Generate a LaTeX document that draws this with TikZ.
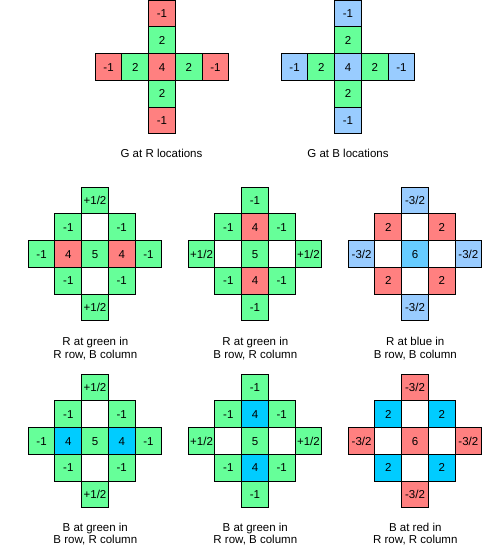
\documentclass[tikz,border=0pt]{standalone}
\usepackage{fontspec}
\setmainfont{Liberation Sans}
\definecolor{cR}{HTML}{FF8080}
\definecolor{cG}{HTML}{66FF99}
\definecolor{cB}{HTML}{99CCFF}
\definecolor{cBc}{HTML}{66CCFF}
\definecolor{cBd}{HTML}{00CCFF}
\tikzset{
  cell/.style={draw=black, line width=1pt, minimum size=26.7pt, inner sep=0pt,
    text height=8.2pt, text depth=0pt, font=\fontsize{11.5}{12.3}\selectfont},
  lab/.style={align=center, inner sep=0pt, anchor=base, font=\fontsize{11.5}{12.3}\selectfont},
}
\newcommand\gc[5]{\node[cell,fill=#4] (#1) at ({(#3-2)*26.7},{(#2-2)*26.7}) {#5};}
\begin{document}
\begin{tikzpicture}[x=1pt,y=-1pt]
\useasboundingbox (0,0) rectangle (491,555);
% G at R locations
\begin{scope}[shift={(162,67)}]
\gc{a02}{0}{2}{cR}{-1}
\gc{a12}{1}{2}{cG}{2}
\gc{a20}{2}{0}{cR}{-1}
\gc{a21}{2}{1}{cG}{2}
\gc{a22}{2}{2}{cR}{4}
\gc{a23}{2}{3}{cG}{2}
\gc{a24}{2}{4}{cR}{-1}
\gc{a32}{3}{2}{cG}{2}
\gc{a42}{4}{2}{cR}{-1}
\end{scope}
\node[lab] (la) at (161.5,157.3) {G at R locations};
% G at B locations
\begin{scope}[shift={(348,67)}]
\gc{b02}{0}{2}{cB}{-1}
\gc{b12}{1}{2}{cG}{2}
\gc{b20}{2}{0}{cB}{-1}
\gc{b21}{2}{1}{cG}{2}
\gc{b22}{2}{2}{cB}{4}
\gc{b23}{2}{3}{cG}{2}
\gc{b24}{2}{4}{cB}{-1}
\gc{b32}{3}{2}{cG}{2}
\gc{b42}{4}{2}{cB}{-1}
\end{scope}
\node[lab] (lb) at (348,157.3) {G at B locations};
% R at green in R row, B column
\begin{scope}[shift={(95,254)}]
\gc{c02}{0}{2}{cG}{+1/2}
\gc{c11}{1}{1}{cG}{-1}
\gc{c12}{1}{2}{white}{}
\gc{c13}{1}{3}{cG}{-1}
\gc{c20}{2}{0}{cG}{-1}
\gc{c21}{2}{1}{cR}{4}
\gc{c22}{2}{2}{cG}{5}
\gc{c23}{2}{3}{cR}{4}
\gc{c24}{2}{4}{cG}{-1}
\gc{c31}{3}{1}{cG}{-1}
\gc{c32}{3}{2}{white}{}
\gc{c33}{3}{3}{cG}{-1}
\gc{c42}{4}{2}{cG}{+1/2}
\end{scope}
\node[lab] (lc) at (95.3,358.2) {R at green in\\R row, B column};
% R at green in B row, R column
\begin{scope}[shift={(255,254)}]
\gc{d02}{0}{2}{cG}{-1}
\gc{d11}{1}{1}{cG}{-1}
\gc{d12}{1}{2}{cR}{4}
\gc{d13}{1}{3}{cG}{-1}
\gc{d20}{2}{0}{cG}{+1/2}
\gc{d21}{2}{1}{white}{}
\gc{d22}{2}{2}{cG}{5}
\gc{d23}{2}{3}{white}{}
\gc{d24}{2}{4}{cG}{+1/2}
\gc{d31}{3}{1}{cG}{-1}
\gc{d32}{3}{2}{cR}{4}
\gc{d33}{3}{3}{cG}{-1}
\gc{d42}{4}{2}{cG}{-1}
\end{scope}
\node[lab] (ld) at (255.3,358.2) {R at green in\\B row, R column};
% R at blue in B row, B column
\begin{scope}[shift={(415,254)}]
\gc{e02}{0}{2}{cB}{-3/2}
\gc{e11}{1}{1}{cR}{2}
\gc{e12}{1}{2}{white}{}
\gc{e13}{1}{3}{cR}{2}
\gc{e20}{2}{0}{cB}{-3/2}
\gc{e21}{2}{1}{white}{}
\gc{e22}{2}{2}{cBc}{6}
\gc{e23}{2}{3}{white}{}
\gc{e24}{2}{4}{cB}{-3/2}
\gc{e31}{3}{1}{cR}{2}
\gc{e32}{3}{2}{white}{}
\gc{e33}{3}{3}{cR}{2}
\gc{e42}{4}{2}{cB}{-3/2}
\end{scope}
\node[lab] (le) at (415.3,358.2) {R at blue in\\B row, B column};
% B at green in B row, R column
\begin{scope}[shift={(95,441)}]
\gc{f02}{0}{2}{cG}{+1/2}
\gc{f11}{1}{1}{cG}{-1}
\gc{f12}{1}{2}{white}{}
\gc{f13}{1}{3}{cG}{-1}
\gc{f20}{2}{0}{cG}{-1}
\gc{f21}{2}{1}{cBd}{4}
\gc{f22}{2}{2}{cG}{5}
\gc{f23}{2}{3}{cBd}{4}
\gc{f24}{2}{4}{cG}{-1}
\gc{f31}{3}{1}{cG}{-1}
\gc{f32}{3}{2}{white}{}
\gc{f33}{3}{3}{cG}{-1}
\gc{f42}{4}{2}{cG}{+1/2}
\end{scope}
\node[lab] (lf) at (95.3,543.6) {B at green in\\B row, R column};
% B at green in R row, B column
\begin{scope}[shift={(255,441)}]
\gc{g02}{0}{2}{cG}{-1}
\gc{g11}{1}{1}{cG}{-1}
\gc{g12}{1}{2}{cBd}{4}
\gc{g13}{1}{3}{cG}{-1}
\gc{g20}{2}{0}{cG}{+1/2}
\gc{g21}{2}{1}{white}{}
\gc{g22}{2}{2}{cG}{5}
\gc{g23}{2}{3}{white}{}
\gc{g24}{2}{4}{cG}{+1/2}
\gc{g31}{3}{1}{cG}{-1}
\gc{g32}{3}{2}{cBd}{4}
\gc{g33}{3}{3}{cG}{-1}
\gc{g42}{4}{2}{cG}{-1}
\end{scope}
\node[lab] (lg) at (255.3,543.6) {B at green in\\R row, B column};
% B at red in R row, R column
\begin{scope}[shift={(415,441)}]
\gc{h02}{0}{2}{cR}{-3/2}
\gc{h11}{1}{1}{cBd}{2}
\gc{h12}{1}{2}{white}{}
\gc{h13}{1}{3}{cBd}{2}
\gc{h20}{2}{0}{cR}{-3/2}
\gc{h21}{2}{1}{white}{}
\gc{h22}{2}{2}{cR}{6}
\gc{h23}{2}{3}{white}{}
\gc{h24}{2}{4}{cR}{-3/2}
\gc{h31}{3}{1}{cBd}{2}
\gc{h32}{3}{2}{white}{}
\gc{h33}{3}{3}{cBd}{2}
\gc{h42}{4}{2}{cR}{-3/2}
\end{scope}
\node[lab] (lh) at (415.3,543.6) {B at red in\\R row, R column};
\end{tikzpicture}
\end{document}
